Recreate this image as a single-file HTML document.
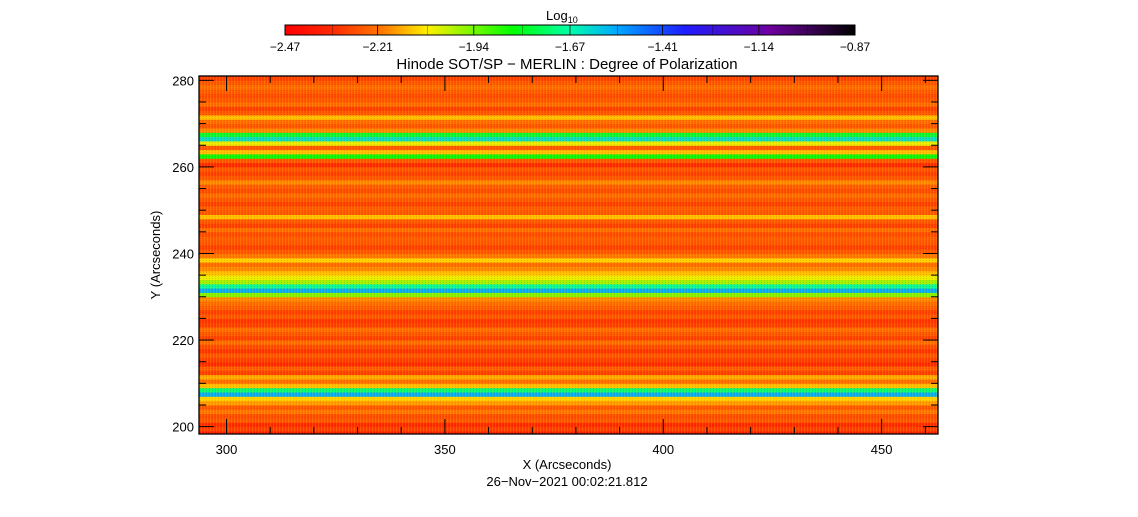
<!DOCTYPE html>
<html><head><meta charset="utf-8"><style>
body{margin:0;background:#fff;width:1138px;height:512px;overflow:hidden}
svg{font-family:"Liberation Sans",sans-serif}
</style></head><body>
<svg id="chart" width="1138" height="512" xmlns="http://www.w3.org/2000/svg">
<defs>
<linearGradient id="cmap" x1="0" x2="1" y1="0" y2="0">
<stop offset="0" stop-color="#ff0000"/><stop offset="0.08" stop-color="#ff2800"/>
<stop offset="0.17" stop-color="#ff7800"/><stop offset="0.25" stop-color="#fff000"/>
<stop offset="0.4" stop-color="#00ff00"/><stop offset="0.5" stop-color="#00ffaa"/>
<stop offset="0.58" stop-color="#00aaff"/><stop offset="0.7" stop-color="#1e1eff"/>
<stop offset="0.85" stop-color="#6e00a0"/><stop offset="1" stop-color="#000000"/>
</linearGradient>
<pattern id="tex" width="3" height="2" patternUnits="userSpaceOnUse">
<rect width="1" height="2" fill="#ffd000" opacity="0.18"/><rect x="2" width="1" height="1" fill="#c00000" opacity="0.15"/>
</pattern>
</defs>
<g id="heat"></g>
<rect x="199" y="76" width="739" height="358" fill="url(#tex)"/>
<g id="axes"></g>
<text x="567" y="69" font-size="15" text-anchor="middle">Hinode SOT/SP − MERLIN : Degree of Polarization</text>
<text x="567" y="469" font-size="13" text-anchor="middle">X (Arcseconds)</text>
<text x="567" y="486" font-size="13" text-anchor="middle">26−Nov−2021 00:02:21.812</text>
<text x="0" y="0" font-size="13" text-anchor="middle" transform="translate(160,255) rotate(-90)">Y (Arcseconds)</text>
<rect x="285" y="25" width="570" height="10" fill="url(#cmap)" stroke="#000"/>
<text x="546" y="20" font-size="13">Log<tspan font-size="9" dy="3">10</tspan></text>
<g id="cbar"></g>
</svg>
<script>
const rowY = [198,199,200,201,202,203,204,205,206,207,208,209,210,211,212,213,214,215,216,217,218,219,220,221,222,223,224,225,226,227,228,229,230,231,232,233,234,235,236,237,238,239,240,241,242,243,244,245,246,247,248,249,250,251,252,253,254,255,256,257,258,259,260,261,262,263,264,265,266,267,268,269,270,271,272,273,274,275,276,277,278,279,280];
const rowVal = [-2.38,-2.3,-2.34,-2.26,-2.28,-2.2,-2.26,-2.16,-2.1,-1.55,-1.72,-2.12,-2.22,-2.14,-2.3,-2.25,-2.34,-2.3,-2.26,-2.32,-2.28,-2.22,-2.3,-2.26,-2.22,-2.3,-2.32,-2.26,-2.3,-2.25,-2.22,-2.18,-1.95,-1.55,-1.68,-1.98,-2.05,-2.12,-2.18,-2.22,-2.1,-2.2,-2.26,-2.3,-2.26,-2.25,-2.28,-2.22,-2.3,-2.26,-2.12,-2.26,-2.25,-2.3,-2.26,-2.22,-2.28,-2.25,-2.18,-2.26,-2.3,-2.26,-2.34,-2.26,-1.82,-2.12,-2.26,-2.05,-1.62,-1.78,-2.18,-2.26,-2.22,-2.12,-2.26,-2.3,-2.22,-2.26,-2.28,-2.25,-2.22,-2.26,-2.3];
const cbarTicks = [-2.47,-2.21,-1.94,-1.67,-1.41,-1.14,-0.87];
const xTicks = [300,350,400,450];
const yTicks = [200,220,240,260,280];
const X0=199,X1=938,Y0=434,Y1=76, xmin=293.7,xmax=462.9,ymin=198.3,ymax=281;
const xs=v=>X0+(v-xmin)/(xmax-xmin)*(X1-X0);
const ys=v=>Y0-(v-ymin)/(ymax-ymin)*(Y0-Y1);
const stops=[[0,[255,0,0]],[0.08,[255,40,0]],[0.17,[255,120,0]],[0.25,[255,240,0]],[0.4,[0,255,0]],[0.5,[0,255,170]],[0.58,[0,170,255]],[0.7,[30,30,255]],[0.85,[110,0,160]],[1,[0,0,0]]];
function cmap(v){let t=(v+2.47)/1.6;t=Math.max(0,Math.min(1,t));
for(let i=1;i<stops.length;i++){if(t<=stops[i][0]){const a=stops[i-1],b=stops[i],f=(t-a[0])/(b[0]-a[0]);
return 'rgb('+a[1].map((c,k)=>Math.round(c+(b[1][k]-c)*f)).join(',')+')';}}return '#000';}
const NS='http://www.w3.org/2000/svg';
function mk(p,t,a){const e=document.createElementNS(NS,t);for(const k in a)e.setAttribute(k,a[k]);p.appendChild(e);return e;}
const heat=document.getElementById('heat');
rowY.forEach((y,i)=>{const top=Math.max(Y1,ys(y+1)),bot=Math.min(Y0,ys(y));
const r=mk(heat,'rect',{x:X0,y:top,width:X1-X0,height:bot-top+0.5,fill:cmap(rowVal[i])});

});
const ax=document.getElementById('axes');
const fr=mk(ax,'rect',{x:X0,y:Y1,width:X1-X0,height:Y0-Y1,fill:'none',stroke:'#000','stroke-width':1.3});


for(let v=300;v<=460;v+=10){const x=xs(v),L=(v%50===0)?15:7;
mk(ax,'line',{x1:x,x2:x,y1:Y0,y2:Y0-L,stroke:'#000'});mk(ax,'line',{x1:x,x2:x,y1:Y1,y2:Y1+L,stroke:'#000'});}
for(let v=200;v<=280;v+=5){const y=ys(v),L=(v%20===0)?15:7;
mk(ax,'line',{x1:X0,x2:X0+L,y1:y,y2:y,stroke:'#000'});mk(ax,'line',{x1:X1,x2:X1-L,y1:y,y2:y,stroke:'#000'});}
xTicks.forEach(v=>{const t=mk(ax,'text',{x:xs(v),y:Y0+20,'font-size':13,'text-anchor':'middle'});t.textContent=v;

});
yTicks.forEach(v=>{const t=mk(ax,'text',{x:X0-5,y:ys(v)+5,'font-size':13,'text-anchor':'end'});t.textContent=v;

});
const cb=document.getElementById('cbar');
cbarTicks.forEach((v,i)=>{const x=285+(v+2.47)/1.6*570;
if(i>0&&i<cbarTicks.length-1)mk(cb,'line',{x1:x,x2:x,y1:25,y2:35,stroke:'#000','stroke-width':0.8});
const t=mk(cb,'text',{x:x,y:51,'font-size':12,'text-anchor':'middle'});t.textContent=String(v).replace('-','−');

});
for(let i=0;i<6;i++){const x=285+(i+0.5)*95;mk(cb,'line',{x1:x,x2:x,y1:25,y2:35,stroke:'#000','stroke-width':0.6,'stroke-opacity':0.5});}
</script>
</body></html>
